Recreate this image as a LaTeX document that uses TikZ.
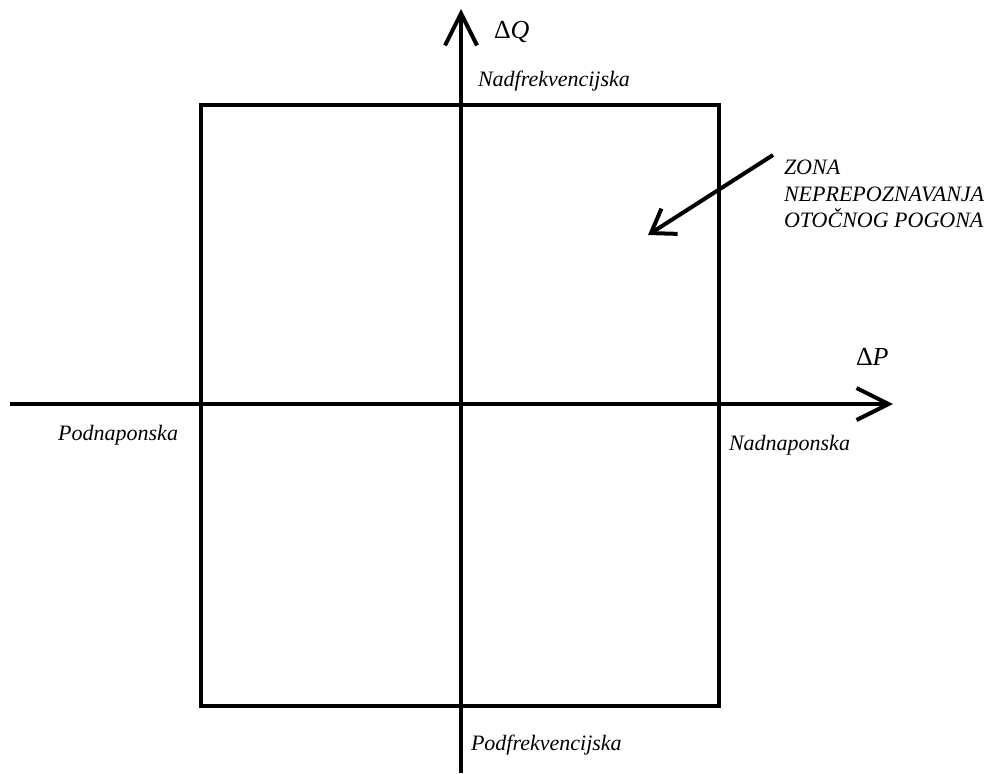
\documentclass[tikz,border=0pt]{standalone}
\usepackage{fontspec}
\setmainfont{Liberation Serif}[ItalicFont={Liberation Serif Italic}]
\usetikzlibrary{arrows.meta}

\begin{document}
\begin{tikzpicture}[x=0.5pt,y=-0.5pt,line width=2pt,
  axis/.style={-{Straight Barb[length=16pt,width=16pt]}},
  pointer/.style={-{Straight Barb[length=11pt,width=15pt]}},
  lbl/.style={inner sep=0pt,font=\itshape\fontsize{11pt}{13.25pt}\selectfont},
  axlbl/.style={inner sep=0pt,font=\fontsize{13pt}{15pt}\selectfont}]
  \useasboundingbox (0,0) rectangle (990,773);

  % zone square
  \node[draw,minimum width=259pt,minimum height=300.5pt,inner sep=0pt] (zona) at (460,405.5) {};

  % axes
  \coordinate (qbot) at (461,773);
  \coordinate (qtop) at (461,9);
  \coordinate (pleft) at (10,404);
  \coordinate (pright) at (893,404);
  \draw[axis] (qbot) -- (qtop);
  \draw[axis] (pleft) -- (pright);

  % axis labels
  \node[axlbl,anchor=base west] (dq) at (492,38) {Δ\textit{Q}};
  \node[axlbl,anchor=base west] (dp) at (854,365) {Δ\textit{P}};

  % quadrant labels
  \node[lbl,anchor=base west] (nadf) at (476,86) {Nadfrekvencijska};
  \node[lbl,anchor=base west] (podf) at (469,750) {Podfrekvencijska};
  \node[lbl,anchor=base east] (podn) at (180,440) {Podnaponska};
  \node[lbl,anchor=base west] (nadn) at (727,450) {Nadnaponska};

  % zone label and pointer
  \node[lbl,anchor=north west,align=left] (zlbl) at (782,158) {ZONA\\NEPREPOZNAVANJA\\OTOČNOG POGONA};
  \coordinate (zstart) at (773,155);
  \coordinate (ztip) at (648,235);
  \draw[pointer] (zstart) -- (ztip);
\end{tikzpicture}
\end{document}
